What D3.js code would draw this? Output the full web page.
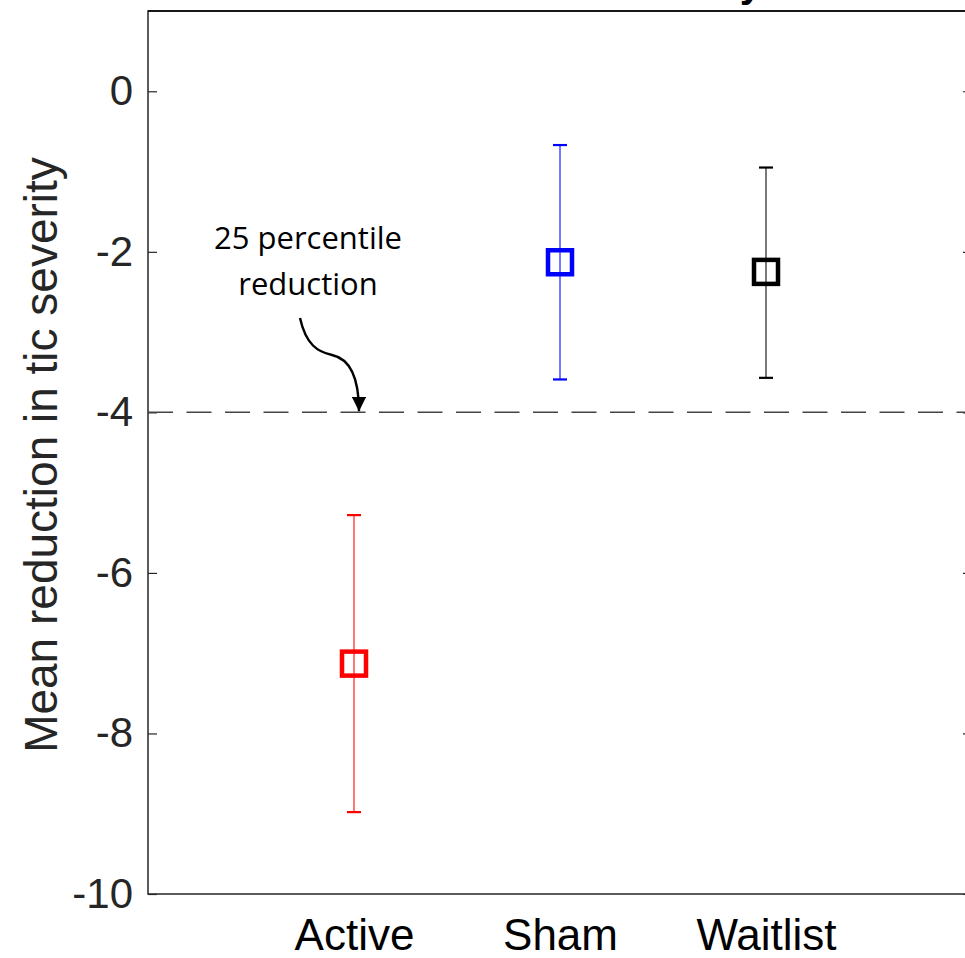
<!DOCTYPE html>
<html>
<head>
<meta charset="utf-8">
<style>
  body { margin: 0; background: #fff; overflow: hidden; }
  svg { display: block; }
</style>
<script src="https://cdn.jsdelivr.net/npm/d3@7"></script>
</head>
<body>
<script>
  // Data
  const groups = ['Active', 'Sham', 'Waitlist'];
  const means = [-7.13, -2.13, -2.25];
  const upper = [-5.28, -0.67, -0.95];
  const lower = [-8.98, -3.59, -3.57];
  const colors = ['#ff0000', '#0000ff', '#000000'];
  const yTicks = [0, -2, -4, -6, -8, -10];
  const threshold = -4;

  const W = 965, H = 958;
  const margin = { top: 11, right: -7, bottom: 64, left: 148 };
  const width = W - margin.left - margin.right,
        height = H - margin.top - margin.bottom;

  const svg = d3.select('body').append('svg')
    .attr('width', W)
    .attr('height', H);

  const g = svg.append('g')
    .attr('transform', `translate(${margin.left}, ${margin.top})`);

  const x = d3.scaleLinear().domain([0, groups.length + 1]).range([0, width]);
  const y = d3.scaleLinear().domain([-10, 1]).range([height, 0]);

  // title, mostly above the visible area
  svg.append('text')
    .attr('x', 762).attr('y', -3)
    .attr('text-anchor', 'end')
    .style('font-family', 'Liberation Sans, Arial, sans-serif')
    .style('font-weight', 'bold')
    .style('font-size', '40px')
    .text('Tic severity');

  // box
  g.append('rect')
    .attr('width', width).attr('height', height)
    .attr('fill', 'none')
    .attr('stroke', '#262626')
    .attr('stroke-width', 1.5);
  g.append('line')
    .attr('x1', 0).attr('x2', width)
    .attr('stroke', '#000').attr('stroke-width', 1.5);

  // y axis (left) with inward ticks
  const yAxis = d3.axisLeft(y).tickValues(yTicks).tickSizeInner(-9).tickSizeOuter(0).tickPadding(15)
    .tickFormat(d => d === 0 ? '0' : d3.format('d')(d).replace('−', '-'));
  g.append('g').attr('class', 'yaxis').call(yAxis)
    .call(s => s.select('.domain').remove())
    .selectAll('text')
      .style('font-family', 'Liberation Sans, Arial, sans-serif')
      .style('font-size', '42px')
      .attr('fill', '#262626');
  g.selectAll('.yaxis .tick line').attr('stroke', '#262626').attr('stroke-width', 1.2);

  // right side ticks
  g.append('g')
    .attr('transform', `translate(${width}, 0)`)
    .call(d3.axisRight(y).tickValues(yTicks).tickSizeInner(-9).tickSizeOuter(0).tickFormat(''))
    .call(s => s.select('.domain').remove())
    .selectAll('.tick line').attr('stroke', '#262626').attr('stroke-width', 1.2);

  // x axis labels (no tick marks)
  g.append('g')
    .attr('transform', `translate(0, ${height})`)
    .call(d3.axisBottom(x).tickValues(d3.range(1, groups.length + 1)).tickSize(0).tickPadding(25)
      .tickFormat(d => groups[d - 1]))
    .call(s => s.select('.domain').remove())
    .selectAll('text')
      .style('font-family', 'Liberation Sans, Arial, sans-serif')
      .style('font-size', '44px')
      .attr('fill', '#000');

  // y label
  g.append('text')
    .attr('transform', 'rotate(-90)')
    .attr('x', -(455 - margin.top))
    .attr('y', -margin.left + 57)
    .attr('text-anchor', 'middle')
    .style('font-family', 'Liberation Sans, Arial, sans-serif')
    .style('font-size', '46px')
    .attr('fill', '#262626')
    .text('Mean reduction in tic severity');

  // dashed reference line
  g.append('line')
    .attr('x1', 0).attr('x2', width)
    .attr('y1', y(threshold)).attr('y2', y(threshold))
    .attr('stroke', '#444')
    .attr('stroke-width', 1.5)
    .attr('stroke-dasharray', '25,13.5');

  // error bars
  const bars = g.selectAll('.err').data(groups).enter().append('g').attr('class', 'err');
  bars.append('line')
    .attr('x1', (d, i) => x(i + 1)).attr('x2', (d, i) => x(i + 1))
    .attr('y1', (d, i) => y(upper[i])).attr('y2', (d, i) => y(lower[i]))
    .attr('stroke', (d, i) => colors[i]).attr('stroke-opacity', 0.7).attr('stroke-width', 1.5);
  [upper, lower].forEach(arr => {
    bars.append('line')
      .attr('x1', (d, i) => x(i + 1) - 7).attr('x2', (d, i) => x(i + 1) + 7)
      .attr('y1', (d, i) => y(arr[i])).attr('y2', (d, i) => y(arr[i]))
      .attr('stroke', (d, i) => colors[i]).attr('stroke-width', 2.2);
  });
  bars.append('rect')
    .attr('x', (d, i) => x(i + 1) - 12).attr('y', (d, i) => y(means[i]) - 12)
    .attr('width', 24).attr('height', 24)
    .attr('fill', 'none')
    .attr('stroke', (d, i) => colors[i]).attr('stroke-width', 4.5);

  // annotation
  const ann = g.append('text')
    .attr('text-anchor', 'middle')
    .style('font-family', 'Open Sans, Noto Sans, sans-serif')
    .style('font-size', '31px')
    .attr('fill', '#000');
  ann.append('tspan').attr('x', 308 - margin.left).attr('y', 249 - margin.top).text('25 percentile');
  ann.append('tspan').attr('x', 308 - margin.left).attr('y', 295 - margin.top).text('reduction');

  svg.append('defs').append('marker')
    .attr('id', 'arrow').attr('viewBox', '0 0 10 10')
    .attr('refX', 10).attr('refY', 5)
    .attr('markerWidth', 6).attr('markerHeight', 6)
    .attr('markerUnits', 'strokeWidth')
    .attr('orient', 'auto')
    .append('path').attr('d', 'M0,0 L10,5 L0,10 z').attr('fill', '#000');

  const tipX = x(1) + 5, tipY = y(threshold) - 1;
  g.append('path')
    .attr('d', `M${300 - margin.left},${318 - margin.top} C${306 - margin.left},${345 - margin.top} ${318 - margin.left},${352 - margin.top} ${332 - margin.left},${355 - margin.top} S${tipX},${372 - margin.top} ${tipX},${tipY}`)
    .attr('fill', 'none')
    .attr('stroke', '#000')
    .attr('stroke-width', 2.4)
    .attr('marker-end', 'url(#arrow)');
</script>
</body>
</html>
